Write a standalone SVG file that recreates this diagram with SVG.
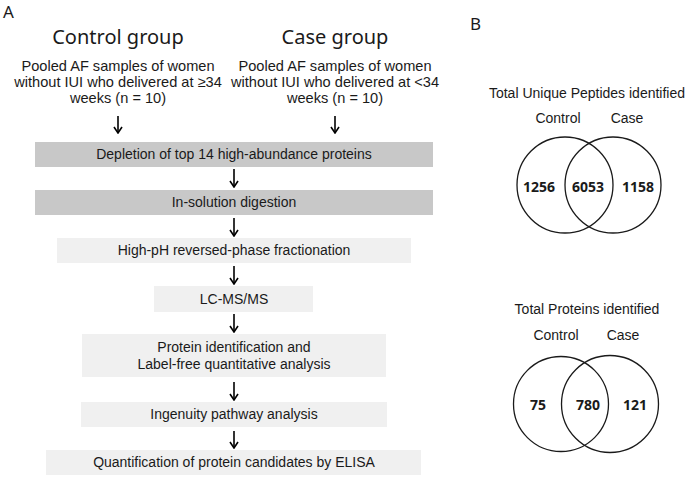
<svg xmlns="http://www.w3.org/2000/svg" width="685" height="477" viewBox="0 0 685 477">
<style>
.bg{fill:#ffffff}
.dark{fill:#c8c8c8}
.light{fill:#f0f0f0}
.t{font-family:"Liberation Sans",Arial,sans-serif;font-size:14px;fill:#1a1a1a;text-anchor:middle}
.s{font-family:"Liberation Sans",Arial,sans-serif;font-size:14.6px;fill:#1a1a1a;text-anchor:middle}
.h{font-family:"Noto Sans","Open Sans",sans-serif;font-size:20px;fill:#1a1a1a;text-anchor:middle}
.p{font-family:"Noto Sans","Open Sans",sans-serif;font-size:17px;fill:#1a1a1a}
.n{font-family:"Noto Sans","Open Sans",sans-serif;font-size:14px;font-weight:bold;fill:#1a1a1a;text-anchor:middle}
.arr{stroke:#000;stroke-width:1.6;fill:none}
.c{stroke:#1a1a1a;stroke-width:1.3;fill:none}
</style>
<defs>
<marker id="ah" viewBox="0 0 10 10" refX="9" refY="5" markerWidth="10" markerHeight="10" markerUnits="userSpaceOnUse" orient="auto">
<path d="M3,1 L9,5 L3,9" stroke="#000" stroke-width="1.6" fill="none"/>
</marker>
</defs>
<rect class="bg" x="0" y="0" width="685" height="477"/>
<text class="p" x="3" y="18">A</text>
<text class="p" x="470" y="30">B</text>
<g id="control-group">
<text class="h" x="118" y="44">Control group</text>
<text class="s" x="118" y="71">Pooled AF samples of women</text>
<text class="s" x="118" y="87">without IUI who delivered at ≥34</text>
<text class="s" x="118" y="103">weeks (n = 10)</text>
</g>
<g id="case-group">
<text class="h" x="335" y="44">Case group</text>
<text class="s" x="335" y="71">Pooled AF samples of women</text>
<text class="s" x="335" y="87">without IUI who delivered at &lt;34</text>
<text class="s" x="335" y="103">weeks (n = 10)</text>
</g>
<g id="depletion">
<rect class="dark" x="35" y="142" width="398" height="25"/>
<text class="t" x="234" y="159">Depletion of top 14 high-abundance proteins</text>
</g>
<g id="digestion">
<rect class="dark" x="35" y="190" width="398" height="25"/>
<text class="t" x="234" y="207">In-solution digestion</text>
</g>
<g id="fractionation">
<rect class="light" x="57" y="238" width="354" height="25"/>
<text class="t" x="234" y="255">High-pH reversed-phase fractionation</text>
</g>
<g id="lcms">
<rect class="light" x="154" y="286" width="159" height="26"/>
<text class="t" x="234" y="304">LC-MS/MS</text>
</g>
<g id="identification">
<rect class="light" x="82" y="334" width="304" height="43"/>
<text class="t" x="234" y="352">Protein identification and</text>
<text class="t" x="234" y="369">Label-free quantitative analysis</text>
</g>
<g id="ipa">
<rect class="light" x="81" y="402" width="306" height="25"/>
<text class="t" x="234" y="419">Ingenuity pathway analysis</text>
</g>
<g id="elisa">
<rect class="light" x="46" y="450" width="375" height="25"/>
<text class="t" x="234" y="467">Quantification of protein candidates by ELISA</text>
</g>
<g id="connectors">
<line class="arr" x1="118" y1="116" x2="118" y2="133" marker-end="url(#ah)"/>
<line class="arr" x1="335" y1="116" x2="335" y2="133" marker-end="url(#ah)"/>
<line class="arr" x1="234" y1="169" x2="234" y2="187" marker-end="url(#ah)"/>
<line class="arr" x1="234" y1="218" x2="234" y2="236" marker-end="url(#ah)"/>
<line class="arr" x1="234" y1="266" x2="234" y2="284" marker-end="url(#ah)"/>
<line class="arr" x1="234" y1="314" x2="234" y2="332" marker-end="url(#ah)"/>
<line class="arr" x1="234" y1="382" x2="234" y2="400" marker-end="url(#ah)"/>
<line class="arr" x1="234" y1="431" x2="234" y2="448" marker-end="url(#ah)"/>
</g>
<g id="venn-peptides">
<text class="t" x="587" y="98">Total Unique Peptides identified</text>
<text class="t" x="558" y="123">Control</text>
<text class="t" x="627" y="123">Case</text>
<circle class="c" cx="565" cy="185" r="48"/>
<circle class="c" cx="613" cy="185" r="48"/>
<text class="n" x="539" y="192">1256</text>
<text class="n" x="588" y="192">6053</text>
<text class="n" x="638" y="192">1158</text>
</g>
<g id="venn-proteins">
<text class="t" x="587" y="314">Total Proteins identified</text>
<text class="t" x="556" y="340">Control</text>
<text class="t" x="623" y="340">Case</text>
<circle class="c" cx="561" cy="404" r="47.5"/>
<circle class="c" cx="610" cy="404" r="48.5"/>
<text class="n" x="538" y="410">75</text>
<text class="n" x="588" y="410">780</text>
<text class="n" x="635" y="410">121</text>
</g>
</svg>
